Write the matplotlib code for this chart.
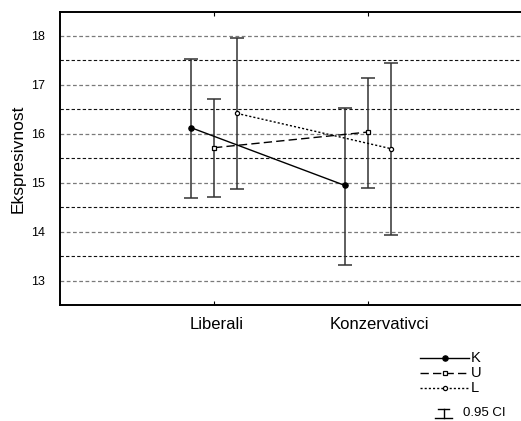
import matplotlib.pyplot as plt
import numpy as np
from matplotlib.lines import Line2D
from matplotlib.transforms import blended_transform_factory, ScaledTranslation

plt.rcParams['font.family'] = ['Liberation Sans', 'DejaVu Sans']

groups = ['Liberali', 'Konzervativci']
series = ['K', 'U', 'L']
means = {
    'K': [16.12, 14.94],
    'U': [15.71, 16.03],
    'L': [16.41, 15.69],
}
upper = {
    'K': [17.52, 16.52],
    'U': [16.71, 17.14],
    'L': [17.95, 17.43],
}
lower = {
    'K': [14.69, 13.31],
    'U': [14.71, 14.89],
    'L': [14.86, 13.93],
}

W, H = 521, 421
fig = plt.figure(figsize=(W / 100, H / 100), dpi=100)
ax = fig.add_axes([60 / W, 1 - 305 / H, (522 - 60) / W, (305 - 12) / H])

offsets = {'K': -0.15, 'U': 0.0, 'L': 0.15}
styles = {
    'K': dict(ls='-', marker='o', mfc='black', ms=3.8),
    'U': dict(ls=(0, (6, 3)), marker='s', mfc='white', ms=3.2),
    'L': dict(ls=(0, (1.5, 1.5)), marker='o', mfc='white', ms=3.0),
}

x = np.arange(len(groups))
# grid
for yv in np.arange(13, 18.01, 0.5):
    if yv == int(yv):
        ax.axhline(yv, color='#7a7a7a', lw=0.9, ls=(0, (3, 2)), zorder=0)
    else:
        ax.axhline(yv, color='#111111', lw=0.8, ls=(0, (3, 2)), zorder=0)

for s in series:
    xs = x + offsets[s]
    m = np.array(means[s])
    err = [m - np.array(lower[s]), np.array(upper[s]) - m]
    ax.errorbar(xs, m, yerr=err, fmt='none', ecolor='#333333', elinewidth=1.1,
                capsize=5, capthick=1.1, zorder=2)
    st = styles[s]
    ax.plot(xs, m, color='black', lw=1, ls=st['ls'], marker=st['marker'],
            mfc=st['mfc'], mec='black', ms=st['ms'], mew=0.9, zorder=3)

ax.set_xlim(-1, 2)
ax.set_ylim(12.5, 18.48)
ax.set_xticks(x)
ax.set_xticklabels([])
# category labels sit a little right of their ticks, as in the original
trans = blended_transform_factory(ax.transData, ax.transAxes)
shifts = [0.03, 0.11]
for xi, g, sh in zip(x, groups, shifts):
    ax.text(xi, -0.04, g, fontsize=12, ha='center', va='top',
            transform=trans + ScaledTranslation(sh, 0, fig.dpi_scale_trans))
ax.set_yticks([13, 14, 15, 16, 17, 18])
ax.tick_params(axis='y', length=0, pad=11, labelsize=9)
ax.tick_params(axis='x', direction='in', length=3, top=True)
ax.set_ylabel('Ekspresivnost', fontsize=12.5, labelpad=4)
for sp in ax.spines.values():
    sp.set_linewidth(1.4)

# legend drawn below the plot
def fx(px):
    return px / W

def fy(py):
    return 1 - py / H

leg_rows = [('K', 358), ('U', 373), ('L', 388)]
for s, py in leg_rows:
    st = styles[s]
    fig.add_artist(Line2D([fx(420), fx(469)], [fy(py), fy(py)], color='black',
                          lw=1, ls=st['ls'], transform=fig.transFigure))
    fig.add_artist(Line2D([fx(444.5)], [fy(py)], color='black', marker=st['marker'],
                          mfc=st['mfc'], mec='black', ms=st['ms'], mew=0.9, ls='none',
                          transform=fig.transFigure))
    fig.text(fx(471), fy(py), s, fontsize=10.5, va='center', ha='left')

# CI symbol
py = 413
fig.add_artist(Line2D([fx(438), fx(449)], [fy(py - 4.5), fy(py - 4.5)], color='black', lw=1,
                      transform=fig.transFigure))
fig.add_artist(Line2D([fx(435), fx(452)], [fy(py + 4.5), fy(py + 4.5)], color='black', lw=1,
                      transform=fig.transFigure))
fig.add_artist(Line2D([fx(443.5), fx(443.5)], [fy(py - 4.5), fy(py + 4.5)], color='black', lw=1,
                      transform=fig.transFigure))
fig.text(fx(463), fy(py), '0.95 CI', fontsize=9.5, va='center', ha='left')

fig.savefig('out.png', dpi=100)
